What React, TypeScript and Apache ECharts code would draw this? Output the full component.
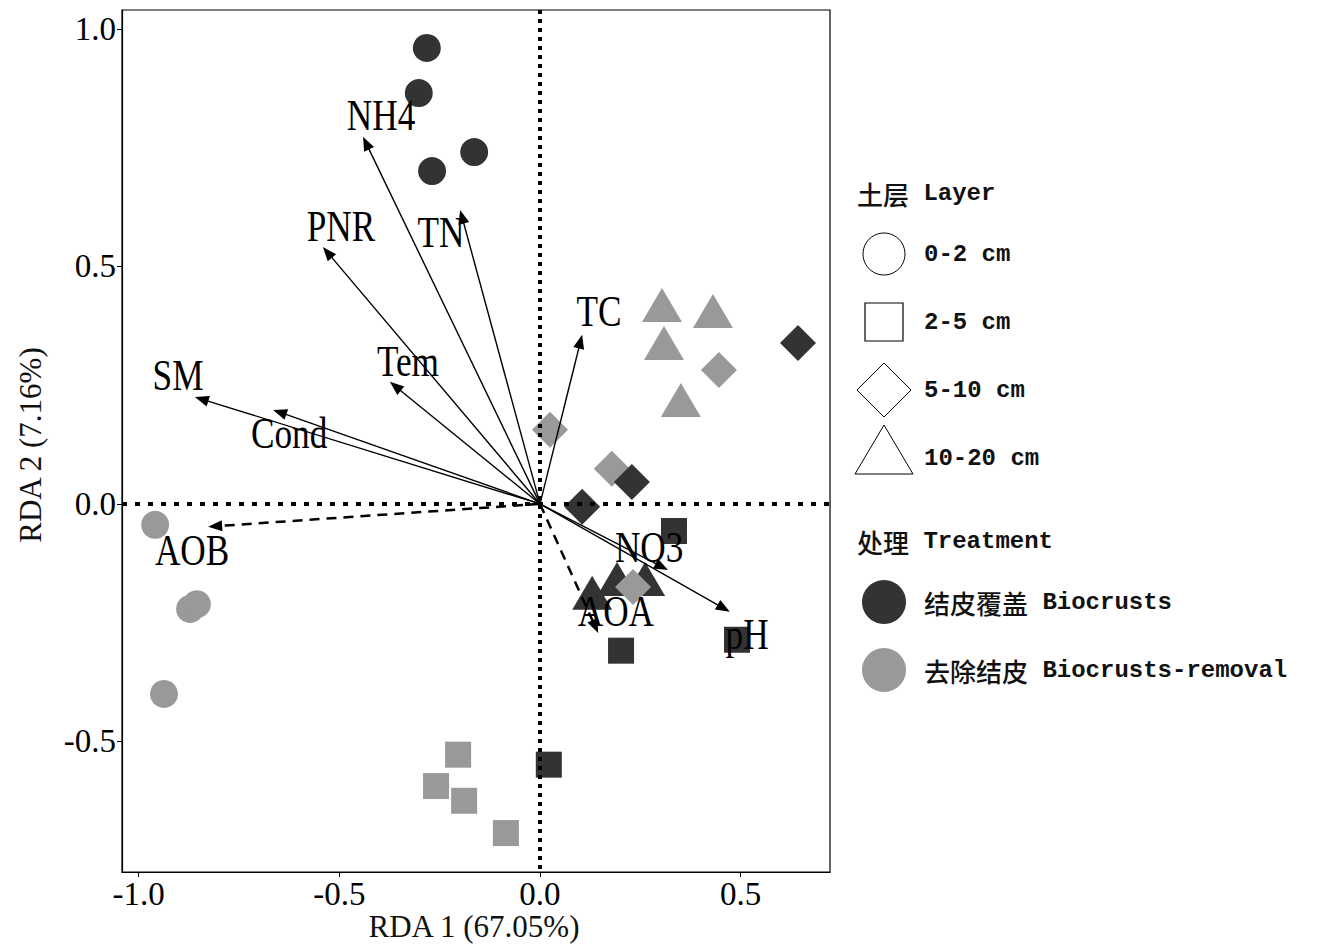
import React, { useEffect, useRef } from 'react';
import * as echarts from 'echarts';

// ---- axis ----
const xTicks = [-1.0, -0.5, 0.0, 0.5];
const yTicks = [-0.5, 0.0, 0.5, 1.0];
const xTitle = 'RDA 1 (67.05%)';
const yTitle = 'RDA 2 (7.16%)';

// ---- sample scores [RDA1, RDA2] ----
const crustCircles = [[-0.282, 0.960], [-0.302, 0.865], [-0.164, 0.741], [-0.269, 0.701]];
const removalCircles = [[-0.959, -0.044], [-0.872, -0.221], [-0.855, -0.211], [-0.937, -0.400]];
const crustSquares = [[0.022, -0.549], [0.202, -0.309], [0.334, -0.057], [0.491, -0.286]];
const removalSquares = [[-0.204, -0.528], [-0.259, -0.594], [-0.189, -0.625], [-0.085, -0.693]];
const crustDiamonds = [[0.643, 0.339], [0.229, 0.046], [0.105, -0.006]];
const removalDiamonds = [[0.446, 0.282], [0.025, 0.156], [0.179, 0.074], [0.232, -0.175]];
const crustTriangles = [[0.130, -0.187], [0.192, -0.158], [0.262, -0.158]];
const removalTriangles = [[0.304, 0.419], [0.431, 0.406], [0.309, 0.339], [0.351, 0.219]];

// ---- environmental vectors ----
const envNames = ['NH4', 'TN', 'PNR', 'TC', 'Tem', 'SM', 'Cond', 'AOB', 'NO3', 'pH', 'AOA'];
const envRDA1 = [-0.441, -0.199, -0.541, 0.105, -0.374, -0.860, -0.665, -0.827, 0.319, 0.473, 0.145];
const envRDA2 = [0.773, 0.619, 0.541, 0.356, 0.257, 0.225, 0.198, -0.048, -0.139, -0.227, -0.272];
const envLabelRDA1 = [-0.396, -0.247, -0.496, 0.147, -0.329, -0.902, -0.625, -0.867, 0.272, 0.516, 0.189];
const envLabelRDA2 = [0.819, 0.573, 0.585, 0.406, 0.301, 0.272, 0.149, -0.097, -0.091, -0.274, -0.225];
const microbialVars = ['AOB', 'AOA'];

// ---- legend ----
const layerTitleCn = '土层';
const layerTitleEn = 'Layer';
const layers = ['0-2 cm', '2-5 cm', '5-10 cm', '10-20 cm'];
const treatTitleCn = '处理';
const treatTitleEn = 'Treatment';
const treatCn = ['结皮覆盖', '去除结皮'];
const treatEn = ['Biocrusts', 'Biocrusts-removal'];

const DARK = '#333333';
const GREY = '#999999';
const SERIF = '"Liberation Serif", "DejaVu Serif", serif';
const MONO = '"Liberation Mono", "DejaVu Sans Mono", monospace';
const CJK = '"Noto Sans CJK SC", sans-serif';

function rich(cn: string, en: string) {
  return `{cn|${cn}} {en|${en}}`;
}
const richStyles = {
  cn: { fontFamily: CJK, fontSize: 26, fontWeight: 500, fill: '#111' },
  en: { fontFamily: MONO, fontSize: 24, fontWeight: 'bold', fill: '#111' },
};

export default function App() {
  const ref = useRef<HTMLDivElement>(null);

  useEffect(() => {
    if (!ref.current) return;
    const chart = echarts.init(ref.current, null, { renderer: 'svg' });

    const envData = envNames.map((_, i) => [envRDA1[i], envRDA2[i], envLabelRDA1[i], envLabelRDA2[i], i]);

    const scatter = (data: number[][], symbol: string, size: any, color: string) => ({
      type: 'scatter',
      data,
      symbol,
      symbolSize: size,
      itemStyle: { color, opacity: 1 },
      emphasis: { disabled: true },
      z: 2,
    });

    const legendGraphics: any[] = [];
    legendGraphics.push({
      type: 'text', x: 857, y: 193,
      style: { text: rich(layerTitleCn, layerTitleEn), rich: richStyles, fontFamily: MONO, fontSize: 24, verticalAlign: 'middle', fill: '#111' },
    });
    const layerY = [254, 322, 390, 458];
    legendGraphics.push({ type: 'circle', shape: { cx: 884, cy: layerY[0], r: 21 }, style: { fill: '#fff', stroke: '#000', lineWidth: 1 } });
    legendGraphics.push({ type: 'rect', shape: { x: 865, y: layerY[1] - 19, width: 38, height: 38 }, style: { fill: '#fff', stroke: '#000', lineWidth: 1.2 } });
    legendGraphics.push({ type: 'polygon', shape: { points: [[884, layerY[2] - 27], [911, layerY[2]], [884, layerY[2] + 27], [857, layerY[2]]] }, style: { fill: '#fff', stroke: '#000', lineWidth: 1 } });
    legendGraphics.push({ type: 'polygon', shape: { points: [[884, layerY[3] - 33], [913, layerY[3] + 16], [855, layerY[3] + 16]] }, style: { fill: '#fff', stroke: '#000', lineWidth: 1 } });
    layers.forEach((l, i) => {
      legendGraphics.push({ type: 'text', x: 924, y: layerY[i], style: { text: l, fontFamily: MONO, fontSize: 24, fontWeight: 'bold', verticalAlign: 'middle', fill: '#111' } });
    });
    legendGraphics.push({
      type: 'text', x: 857, y: 541,
      style: { text: rich(treatTitleCn, treatTitleEn), rich: richStyles, fontFamily: MONO, fontSize: 24, verticalAlign: 'middle', fill: '#111' },
    });
    const treatY = [602, 670];
    [DARK, GREY].forEach((c, i) => {
      legendGraphics.push({ type: 'circle', shape: { cx: 884, cy: treatY[i], r: 22 }, style: { fill: c } });
      legendGraphics.push({ type: 'text', x: 924, y: treatY[i], style: { text: rich(treatCn[i], treatEn[i]), rich: richStyles, fontFamily: MONO, fontSize: 24, verticalAlign: 'middle', fill: '#111' } });
    });
    legendGraphics.push({ type: 'text', x: 474, y: 926, style: { text: xTitle, fontFamily: SERIF, fontSize: 31, align: 'center', verticalAlign: 'middle', fill: '#111' } });
    legendGraphics.push({ type: 'text', x: 30, y: 445, rotation: Math.PI / 2, style: { text: yTitle, fontFamily: SERIF, fontSize: 31, align: 'center', verticalAlign: 'middle', fill: '#111' } });

    const option: any = {
      animation: false,
      backgroundColor: '#fff',
      grid: { left: 122, top: 10, width: 708, height: 862, show: true, borderColor: '#000', borderWidth: 1.2, backgroundColor: 'transparent' },
      xAxis: {
        type: 'value', min: -1.0416, max: 0.7227,
        axisLine: { show: true, onZero: false, lineStyle: { color: '#000', width: 1.2 } },
        axisTick: { show: true, length: 5, lineStyle: { color: '#000' }, customValues: xTicks },
        axisLabel: { customValues: xTicks, formatter: (v: number) => v.toFixed(1), fontFamily: SERIF, fontSize: 33, color: '#000', margin: 5 },
        splitLine: { show: false },
      },
      yAxis: {
        type: 'value', min: -0.775, max: 1.04,
        axisLine: { show: true, onZero: false, lineStyle: { color: '#000', width: 1.2 } },
        axisTick: { show: true, length: 5, lineStyle: { color: '#000' }, customValues: yTicks },
        axisLabel: { customValues: yTicks, formatter: (v: number) => v.toFixed(1), fontFamily: SERIF, fontSize: 33, color: '#000', margin: 6 },
        splitLine: { show: false },
      },
      graphic: legendGraphics,
      series: [
        scatter(crustCircles, 'circle', 28, DARK),
        scatter(removalCircles, 'circle', 28, GREY),
        scatter(crustSquares, 'rect', 26, DARK),
        scatter(removalSquares, 'rect', 26, GREY),
        scatter(crustTriangles, 'triangle', [40, 34], DARK),
        scatter(removalTriangles, 'triangle', [40, 34], GREY),
        scatter(removalDiamonds, 'diamond', [36, 36], GREY),
        scatter(crustDiamonds, 'diamond', [36, 36], DARK),
        {
          type: 'custom',
          data: [[0, 0]],
          z: 4,
          silent: true,
          renderItem: (params: any, api: any) => {
            const cs = params.coordSys;
            const o = api.coord([0, 0]);
            return {
              type: 'group',
              children: [
                { type: 'line', shape: { x1: o[0], y1: cs.y, x2: o[0], y2: cs.y + cs.height }, style: { stroke: '#000', lineWidth: 4, lineDash: [4, 5] } },
                { type: 'line', shape: { x1: cs.x, y1: o[1], x2: cs.x + cs.width, y2: o[1] }, style: { stroke: '#000', lineWidth: 4, lineDash: [5, 8] } },
              ],
            };
          },
        },
        {
          type: 'custom',
          data: envData,
          z: 5,
          silent: true,
          renderItem: (params: any, api: any) => {
            const i = api.value(4);
            const name = envNames[i];
            const o = api.coord([0, 0]);
            const t = api.coord([api.value(0), api.value(1)]);
            const l = api.coord([api.value(2), api.value(3)]);
            const dx = t[0] - o[0];
            const dy = t[1] - o[1];
            const len = Math.sqrt(dx * dx + dy * dy);
            const ux = dx / len, uy = dy / len;
            const hl = 14, hw = 5.5;
            const b = [t[0] - ux * hl, t[1] - uy * hl];
            const p1 = [b[0] - uy * hw, b[1] + ux * hw];
            const p2 = [b[0] + uy * hw, b[1] - ux * hw];
            const dashed = microbialVars.indexOf(name) >= 0;
            return {
              type: 'group',
              children: [
                { type: 'line', shape: { x1: o[0], y1: o[1], x2: b[0] + ux * 2, y2: b[1] + uy * 2 }, style: { stroke: '#000', lineWidth: dashed ? 2.5 : 1.4, lineDash: dashed ? [10, 7] : null } },
                { type: 'polygon', shape: { points: [t, p1, p2] }, style: { fill: '#000' } },
                { type: 'text', x: l[0], y: l[1], scaleX: 0.8, style: { text: name, x: 0, y: 0, align: 'center', verticalAlign: 'middle', fontFamily: SERIF, fontSize: 44, fill: '#000' } },
              ],
            };
          },
        },
      ],
    };
    chart.setOption(option);
    return () => chart.dispose();
  }, []);

  return <div ref={ref} style={{ position: 'fixed', left: 0, top: 0, width: 1319, height: 945, background: '#fff' }} />;
}
